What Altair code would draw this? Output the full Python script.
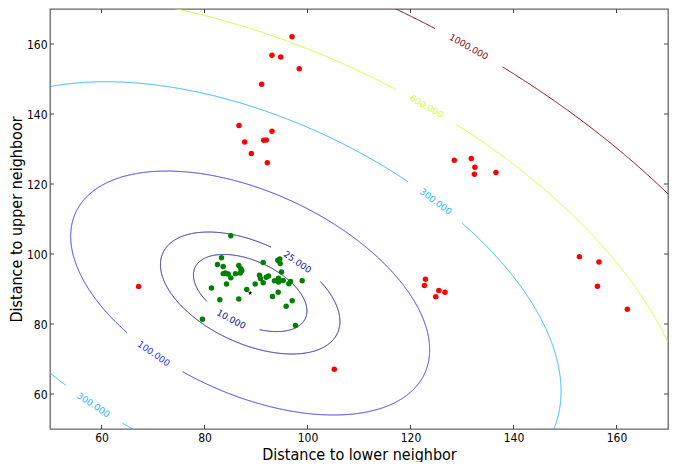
import numpy as np
import pandas as pd
import altair as alt

# ---------------- data ----------------
x_domain = [50, 170]
y_domain = [50, 170]
x_ticks = [60, 80, 100, 120, 140, 160]
y_ticks = [60, 80, 100, 120, 140, 160]

inlier_x = [85.11, 83.30, 82.52, 83.63, 86.66, 87.05, 87.24, 86.93, 83.63, 84.08,
            84.60, 85.11, 86.02, 84.27, 81.36, 82.97, 86.66, 88.21, 89.84, 90.68,
            90.87, 91.40, 91.98, 92.43, 91.40, 94.23, 94.62, 94.70, 94.95, 93.59,
            94.37, 94.37, 95.28, 96.37, 96.70, 98.97, 94.31, 93.20, 97.03, 95.86,
            97.67, 79.61]
inlier_y = [105.20, 98.96, 97.01, 96.45, 96.73, 95.78, 95.22, 94.58, 94.39, 94.58,
            94.30, 93.18, 94.39, 91.42, 90.31, 86.95, 87.13, 89.83, 91.42, 93.93,
            92.99, 91.79, 93.38, 93.74, 97.57, 98.21, 98.58, 97.29, 94.86, 92.35,
            93.10, 91.98, 92.43, 91.51, 92.15, 92.35, 89.08, 87.88, 86.66, 85.08,
            79.58, 81.37]

outlier_x = [97.0, 93.1, 94.8, 98.4, 91.1, 86.7, 93.1, 87.8, 91.5, 92.0, 89.1, 92.2,
             152.8, 156.6, 156.3, 162.1, 122.9, 122.7, 125.5, 126.7, 124.9,
             128.5, 131.8, 132.5, 132.4, 136.6, 67.2, 105.2]
outlier_y = [162.1, 156.8, 156.3, 152.9, 148.5, 136.7, 135.1, 132.0, 132.5, 132.6, 128.7, 126.1,
             99.25, 97.7, 90.8, 84.2, 92.8, 91.0, 89.6, 89.1, 87.8,
             126.8, 127.3, 124.8, 122.8, 123.3, 90.75, 67.1]

center = [88.87, 88.85]

# score field (in thousands): A*(dx^2+dy^2) + 2*B*dx*dy
coef_A = 0.10505
coef_B = 0.04885

levels = [10, 25, 100, 300, 600, 1000]
level_colors = ["#10108a", "#101098", "#2a2aef", "#2ab4ff", "#ccff3a", "#8a1010"]

label_level = [10, 25, 100, 300, 300, 600, 1000]
label_x = [84.9, 98.1, 69.9, 58.2, 125.0, 123.3, 131.5]
label_y = [80.6, 97.8, 71.1, 56.4, 115.3, 142.7, 159.7]

W, H = 618, 420

# ---------------- contour geometry ----------------
sx = W / (x_domain[1] - x_domain[0])
sy = H / (y_domain[1] - y_domain[0])
lam1 = coef_A + coef_B
lam2 = coef_A - coef_B
e1 = np.array([1.0, 1.0]) / np.sqrt(2)
e2 = np.array([1.0, -1.0]) / np.sqrt(2)


def ellipse(level, t):
    r1 = np.sqrt(level / lam1)
    r2 = np.sqrt(level / lam2)
    px = center[0] + r1 * np.cos(t) * e1[0] + r2 * np.sin(t) * e2[0]
    py = center[1] + r1 * np.cos(t) * e1[1] + r2 * np.sin(t) * e2[1]
    return px, py


def deriv(level, t):
    r1 = np.sqrt(level / lam1)
    r2 = np.sqrt(level / lam2)
    dx = -r1 * np.sin(t) * e1[0] + r2 * np.cos(t) * e2[0]
    dy = -r1 * np.sin(t) * e1[1] + r2 * np.cos(t) * e2[1]
    return dx, dy


def to_screen(px, py):
    return (np.asarray(px) - x_domain[0]) * sx, (y_domain[1] - np.asarray(py)) * sy


line_rows = []
label_rows = []
N = 2880
for lev, col in zip(levels, level_colors):
    idx = [k for k, l in enumerate(label_level) if l == lev]
    tg = np.linspace(0, 2 * np.pi, N, endpoint=False)
    gx, gy = ellipse(lev, tg)
    GX, GY = to_screen(gx, gy)
    t_labs = []
    for k in idx:
        LX, LY = to_screen(label_x[k], label_y[k])
        j = int(np.argmin((GX - LX) ** 2 + (GY - LY) ** 2))
        t_labs.append(tg[j])
    start = t_labs[0]
    t = start + np.linspace(0, 2 * np.pi, N + 1)
    px, py = ellipse(lev, t)
    PX, PY = to_screen(px, py)
    mask = np.zeros(len(t), dtype=bool)
    txt = f"{lev:.3f}"
    half_gap = 4 * len(txt) + 6
    for tl in t_labs:
        cx, cy = ellipse(lev, tl)
        CX, CY = to_screen(cx, cy)
        mask |= np.hypot(PX - CX, PY - CY) < half_gap
        ddx, ddy = deriv(lev, tl)
        ang = np.degrees(np.arctan2(-ddy * sy, ddx * sx))
        if ang > 90:
            ang -= 180
        if ang <= -90:
            ang += 180
        label_rows.append({"x": float(cx), "y": float(cy), "text": txt,
                           "angle": float(ang % 360), "col": col})
    seg = 0
    prev_gap = True
    for i in range(len(t)):
        if mask[i]:
            prev_gap = True
            continue
        if prev_gap:
            seg += 1
            prev_gap = False
        line_rows.append({"x": float(px[i]), "y": float(py[i]), "i": i,
                          "seg": f"{lev}-{seg}", "col": col})

lines_df = pd.DataFrame(line_rows)
labels_df = pd.DataFrame(label_rows)
inl_df = pd.DataFrame({"x": inlier_x, "y": inlier_y})
out_df = pd.DataFrame({"x": outlier_x, "y": outlier_y})
ctr_df = pd.DataFrame({"x": [center[0]], "y": [center[1]]})
xt_df = pd.DataFrame({"x": x_ticks})
yt_df = pd.DataFrame({"y": y_ticks})

tick_font = "Liberation Sans Narrow, DejaVu Sans Condensed, Arial Narrow, sans-serif"
title_font = "DejaVu Sans Condensed, DejaVu Sans, sans-serif"

xscale = alt.Scale(domain=x_domain, nice=False, zero=False)
yscale = alt.Scale(domain=y_domain, nice=False, zero=False)
xaxis = alt.Axis(values=x_ticks, title="Distance to lower neighbor", grid=False, ticks=False,
                 domain=False, labelFont=tick_font, labelFontSize=12, labelColor="black",
                 labelPadding=3, titleFont=title_font, titleFontSize=16, titleFontWeight="normal",
                 titleColor="black", titlePadding=3, labelFlush=False)
yaxis = alt.Axis(values=y_ticks, title="Distance to upper neighboor", grid=False, ticks=False,
                 domain=False, labelFont=tick_font, labelFontSize=12, labelColor="black",
                 labelPadding=3, titleFont=title_font, titleFontSize=16, titleFontWeight="normal",
                 titleColor="black", titlePadding=2, labelFlush=False)


def X(f="x"):
    return alt.X(f"{f}:Q", scale=xscale, axis=xaxis)


def Y(f="y"):
    return alt.Y(f"{f}:Q", scale=yscale, axis=yaxis)


contours = alt.Chart(lines_df).mark_line(strokeWidth=1.0, clip=True).encode(
    x=X(), y=Y(), detail="seg:N", order="i:Q",
    color=alt.Color("col:N", scale=None))

labels = alt.Chart(labels_df).mark_text(font="DejaVu Sans", fontSize=9, align="center",
                                        baseline="middle", clip=True).encode(
    x=X(), y=Y(), text="text:N", angle=alt.Angle("angle:Q", scale=None),
    color=alt.Color("col:N", scale=None))

inl = alt.Chart(inl_df).mark_circle(size=30, opacity=1, color="#008000").encode(x=X(), y=Y())
out = alt.Chart(out_df).mark_circle(size=30, opacity=1, color="#ff0000", clip=True).encode(x=X(), y=Y())

star_path = ("M0,-1L0.2245,-0.309L0.951,-0.309L0.363,0.118L0.588,0.809L0,0.382"
             "L-0.588,0.809L-0.363,0.118L-0.951,-0.309L-0.2245,-0.309Z")
ctr = alt.Chart(ctr_df).mark_point(shape=star_path, size=22, filled=True, opacity=1,
                                   color="black").encode(x=X(), y=Y())

tick_col = "#444444"
xt_bot = alt.Chart(xt_df).mark_rule(color=tick_col, strokeWidth=1).encode(
    x=X(), y=alt.value(H), y2=alt.value(H - 4))
xt_top = alt.Chart(xt_df).mark_rule(color=tick_col, strokeWidth=1).encode(
    x=X(), y=alt.value(0), y2=alt.value(4))
yt_left = alt.Chart(yt_df).mark_rule(color=tick_col, strokeWidth=1).encode(
    y=Y(), x=alt.value(0), x2=alt.value(4))
yt_right = alt.Chart(yt_df).mark_rule(color=tick_col, strokeWidth=1).encode(
    y=Y(), x=alt.value(W - 4), x2=alt.value(W))

chart = alt.layer(contours, labels, inl, out, ctr, xt_bot, xt_top, yt_left, yt_right).properties(
    width=W, height=H,
    padding={"left": 0, "top": 0, "right": 0, "bottom": 0},
    background="white",
).configure_view(stroke="#666666", strokeWidth=1.3)

chart.save("out.html", embed_options={"renderer": "svg", "actions": False})
